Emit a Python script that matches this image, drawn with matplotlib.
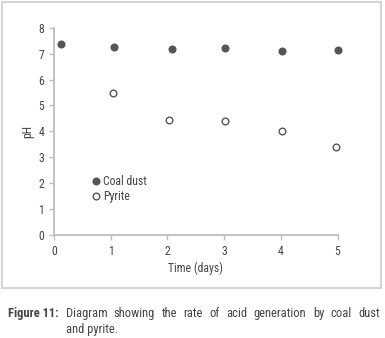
import matplotlib
matplotlib.use("Agg")
import matplotlib.pyplot as plt
from matplotlib.patches import Rectangle
from matplotlib import font_manager

names = {f.name for f in font_manager.fontManager.ttflist}
fam = [n for n in ["Liberation Sans Narrow", "Roboto Condensed", "Liberation Sans", "DejaVu Sans"] if n in names]
plt.rcParams['font.family'] = fam

coal_x = [0.13, 1.06, 2.08, 3.02, 4.02, 5.01]
coal_y = [7.38, 7.24, 7.19, 7.21, 7.09, 7.14]
pyr_x = [1.04, 2.03, 3.02, 4.02, 4.98]
pyr_y = [5.49, 4.45, 4.40, 4.00, 3.40]
xticks = [0, 1, 2, 3, 4, 5]
yticks = [0, 1, 2, 3, 4, 5, 6, 7, 8]

W, H = 385, 338
txt = "#444444"
fig = plt.figure(figsize=(W / 100, H / 100), dpi=100)
fig.patch.set_facecolor("white")
fig.add_artist(Rectangle((2 / W, 1 - 288 / H), 379 / W, 286 / H, transform=fig.transFigure,
                         fill=False, edgecolor="#d4d4d4", linewidth=1.5))

ax = fig.add_axes([54 / W, 1 - 235 / H, 283.5 / W, 207.3 / H])
gray = "#555555"
ax.plot(coal_x, coal_y, "o", color=gray, markersize=4.8, label="Coal dust", clip_on=False)
ax.plot(pyr_x, pyr_y, "o", markerfacecolor="white", markeredgecolor=gray, markeredgewidth=1.0,
        markersize=4.8, label="Pyrite", clip_on=False)
ax.set_xlim(0, 5)
ax.set_ylim(0, 8)
ax.set_xticks(xticks)
ax.set_yticks(yticks)
for s in ["top", "right"]:
    ax.spines[s].set_visible(False)
for s in ["left", "bottom"]:
    ax.spines[s].set_color("#bdbdbd")
    ax.spines[s].set_linewidth(1.3)
ax.tick_params(colors="#bdbdbd", labelcolor=txt, labelsize=8.5, length=3.5, width=1)
ax.set_xlabel("Time (days)", fontsize=8.5, color=txt, labelpad=3)
ax.set_ylabel("pH", fontsize=8.5, color=txt, labelpad=3)
leg = ax.legend(loc="upper left", bbox_to_anchor=(0.105, 0.31), frameon=False, fontsize=8.5,
                handletextpad=0.05, labelspacing=0.15, handlelength=1.2, borderaxespad=0)
for t in leg.get_texts():
    t.set_color(txt)

# caption
cfs = 9
fig.text(8 / W, 1 - 317 / H, "Figure 11:", fontsize=cfs, fontweight="bold", color=txt, va="baseline")
words = "Diagram showing the rate of acid generation by coal dust".split()
fig.canvas.draw()
r = fig.canvas.get_renderer()
texts = [fig.text(0, 1 - 317 / H, w, fontsize=cfs, color=txt, va="baseline") for w in words]
widths = [t.get_window_extent(r).width for t in texts]
x0, x1 = 65.7, 380.0
gap = (x1 - x0 - sum(widths)) / (len(words) - 1)
x = x0
for t, w in zip(texts, widths):
    t.set_x(x / W)
    x += w + gap
fig.text(x0 / W, 1 - 333 / H, "and pyrite.", fontsize=cfs, color=txt, va="baseline")

fig.savefig("out.png", dpi=100)
